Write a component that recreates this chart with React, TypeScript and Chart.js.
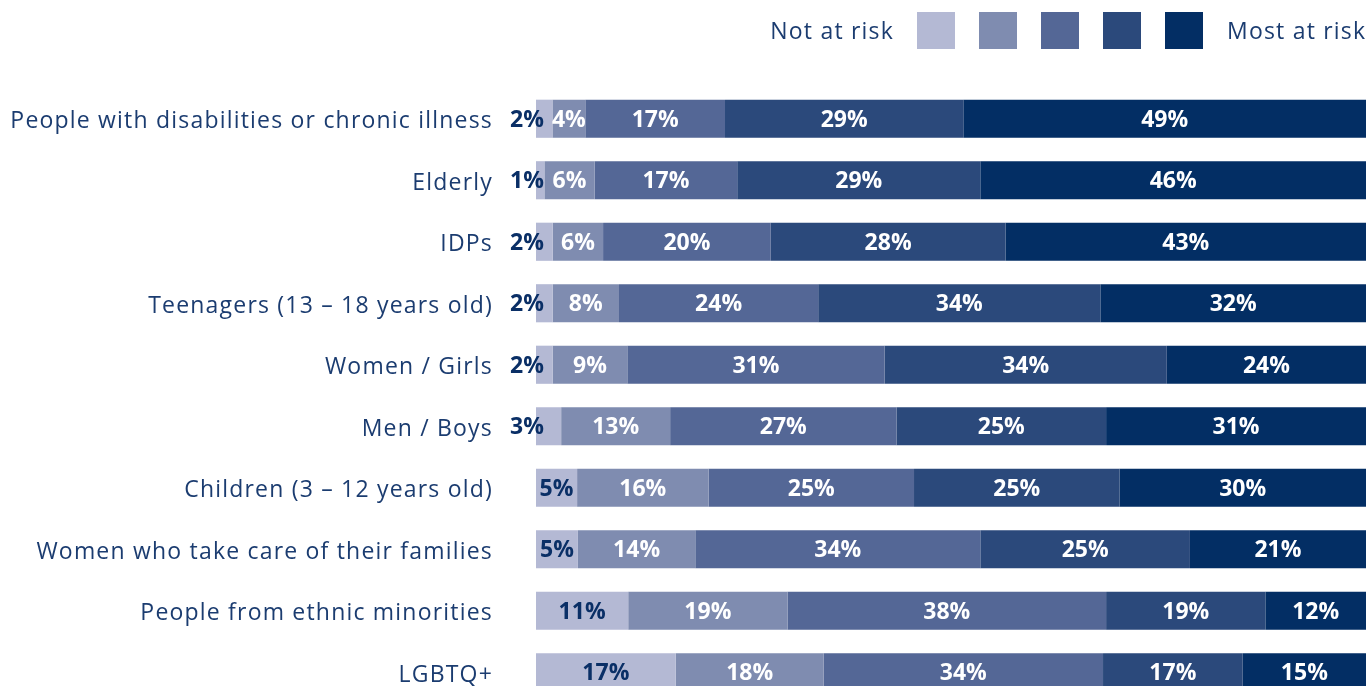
import { useEffect, useRef } from "react";
import { Chart, registerables } from "chart.js";

Chart.register(...registerables);

const categories = [
  "People with disabilities or chronic illness",
  "Elderly",
  "IDPs",
  "Teenagers (13 – 18 years old)",
  "Women / Girls",
  "Men / Boys",
  "Children (3 – 12 years old)",
  "Women who take care of their families",
  "People from ethnic minorities",
  "LGBTQ+",
];

const notAtRisk = [2, 1, 2, 2, 2, 3, 5, 5, 11, 17];
const lowRisk = [4, 6, 6, 8, 9, 13, 16, 14, 19, 18];
const midRisk = [17, 17, 20, 24, 31, 27, 25, 34, 38, 34];
const highRisk = [29, 29, 28, 34, 34, 25, 25, 25, 19, 17];
const mostAtRisk = [49, 46, 43, 32, 24, 31, 30, 21, 12, 15];

const seriesNames = ["Not at risk", "Low risk", "Medium risk", "High risk", "Most at risk"];
const legendLeftText = "Not at risk";
const legendRightText = "Most at risk";

const colors = ["#b4b9d4", "#7f8cb0", "#546796", "#2b497b", "#032e64"];
const textColor = "#1b3c70";
const darkLabel = "#0a2f66";
const FONT = "'Open Sans', 'DejaVu Sans', sans-serif";
const SPACING = "1.2px";

const series = [notAtRisk, lowRisk, midRisk, highRisk, mostAtRisk];

const spacingPlugin = {
  id: "spacing",
  beforeDraw(chart: any) {
    (chart.ctx as any).letterSpacing = SPACING;
  },
};

const labelPlugin = {
  id: "customLabels",
  afterDatasetsDraw(chart: any) {
    const ctx = chart.ctx;
    ctx.save();
    (ctx as any).letterSpacing = "0px";
    ctx.textBaseline = "alphabetic";
    ctx.font = `bold 23px ${FONT}`;
    ctx.textAlign = "center";
    series.forEach((arr, k) => {
      const meta = chart.getDatasetMeta(k);
      meta.data.forEach((bar: any, i: number) => {
        const v = arr[i];
        const text = `${v}%`;
        const left = Math.min(bar.x, bar.base);
        const right = Math.max(bar.x, bar.base);
        const ty = bar.y + 8;
        if (k === 0) {
          ctx.fillStyle = darkLabel;
          const cx = v <= 3 ? left - 9 : (left + right) / 2;
          ctx.fillText(text, cx, ty);
        } else {
          ctx.fillStyle = "#ffffff";
          ctx.fillText(text, (left + right) / 2, ty);
        }
      });
    });
    ctx.restore();
  },
  afterDraw(chart: any) {
    const ctx = chart.ctx;
    ctx.save();
    (ctx as any).letterSpacing = SPACING;
    ctx.textBaseline = "alphabetic";
    ctx.font = `23px ${FONT}`;
    ctx.fillStyle = textColor;
    const y = 39;
    ctx.textAlign = "right";
    ctx.fillText(legendLeftText, 894, y);
    colors.forEach((c, k) => {
      ctx.fillStyle = c;
      ctx.fillRect(917 + k * 62, 12, 38, 37);
    });
    ctx.fillStyle = textColor;
    ctx.textAlign = "left";
    ctx.fillText(legendRightText, 1227, y);
    ctx.restore();
  },
};

export default function App() {
  const ref = useRef<HTMLCanvasElement>(null);
  useEffect(() => {
    if (!ref.current) return;
    const totals = categories.map((_, i) => series.reduce((s, arr) => s + arr[i], 0));
    const chart = new Chart(ref.current, {
      type: "bar",
      data: {
        labels: categories,
        datasets: series.map((arr, k) => ({
          label: seriesNames[k],
          data: arr.map((v, i) => (v / totals[i]) * 100),
          backgroundColor: colors[k],
          borderWidth: 0,
          barPercentage: 0.62,
          categoryPercentage: 1,
        })),
      },
      options: {
        indexAxis: "y",
        responsive: true,
        maintainAspectRatio: false,
        animation: false,
        layout: { padding: { top: 88, right: 2, left: 0, bottom: 0 } },
        plugins: { legend: { display: false }, tooltip: { enabled: false } },
        scales: {
          x: { stacked: true, min: 0, max: 100, display: false },
          y: {
            stacked: true,
            grid: { display: false, drawTicks: false },
            border: { display: false },
            ticks: { color: textColor, font: { family: FONT, size: 23 }, padding: 43, labelOffset: 3 },
            afterFit: (s: any) => {
              s.width = 536;
              s.paddingTop = 0;
              s.paddingBottom = 0;
            },
          },
        },
      },
      plugins: [spacingPlugin, labelPlugin],
    } as any);
    return () => chart.destroy();
  }, []);

  return (
    <div style={{ position: "fixed", left: 0, top: 0, width: 1368, height: 686, overflow: "hidden", background: "#fff" }}>
      <div style={{ position: "relative", width: 1368, height: 703 }}>
        <canvas ref={ref} />
      </div>
    </div>
  );
}
